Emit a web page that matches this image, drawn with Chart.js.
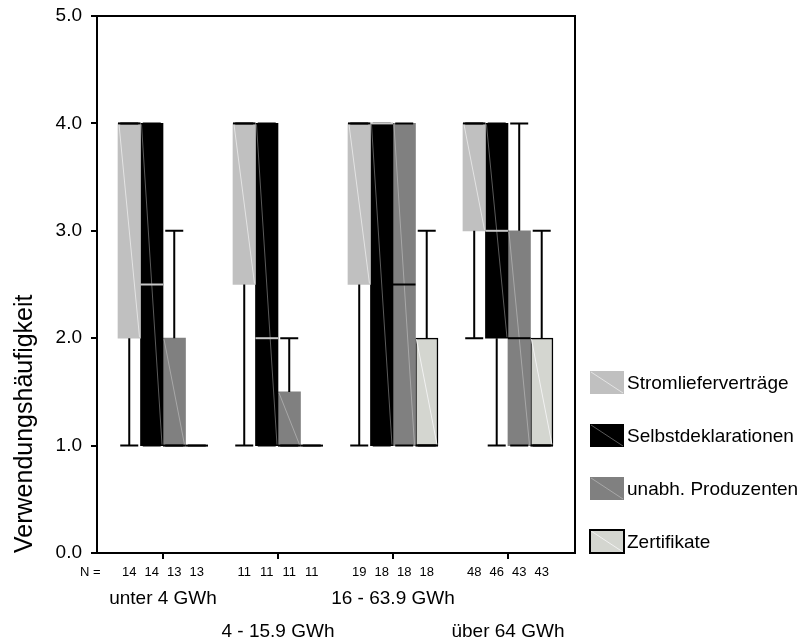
<!DOCTYPE html>
<html>
<head>
<meta charset="utf-8">
<title>Verwendungshäufigkeit</title>
<script src="https://cdn.jsdelivr.net/npm/chart.js@4/dist/chart.umd.min.js"></script>
<style>
    html, body { margin: 0; padding: 0; background: #fff; }
</style>
</head>
<body>
<canvas id="boxChart" width="805" height="641"></canvas>
<script>
(function() {
    'use strict';

    const groups = ['unter 4 GWh', '4 - 15.9 GWh', '16 - 63.9 GWh', 'über 64 GWh'];
    const seriesNames = ['Stromlieferverträge', 'Selbstdeklarationen', 'unabh. Produzenten', 'Zertifikate'];

    // one [min, q1, median, q3, max] per size group
    const stromliefervertraege = [[1, 2, 4, 4, 4], [1, 2.5, 4, 4, 4], [1, 2.5, 4, 4, 4], [2, 3, 4, 4, 4]];
    const selbstdeklarationen = [[1, 1, 2.5, 4, 4], [1, 1, 2, 4, 4], [1, 1, 4, 4, 4], [1, 2, 3, 4, 4]];
    const unabhProduzenten = [[1, 1, 1, 2, 3], [1, 1, 1, 1.5, 2], [1, 1, 2.5, 4, 4], [1, 1, 2, 3, 4]];
    const zertifikate = [[1, 1, 1, 1, 1], [1, 1, 1, 1, 1], [1, 1, 1, 2, 3], [1, 1, 1, 2, 3]];

    // cases per box
    const nStrom = [14, 11, 19, 48];
    const nSelbst = [14, 11, 18, 46];
    const nUnabh = [13, 11, 18, 43];
    const nZert = [13, 11, 18, 43];

    const FONT = "'Liberation Sans', Arial, sans-serif";
    Chart.defaults.font.family = FONT;
    Chart.defaults.color = '#000';

    function makeSet(label, summary, counts, fill, diag, median, border) {
        return {
            label: label,
            data: summary.map((s, i) => ({ x: i, y: [s[1], s[3]] })),
            summary: summary,
            counts: counts,
            backgroundColor: fill,
            borderColor: '#000',
            borderWidth: border ? 1.5 : 0,
            borderSkipped: false,
            diagColor: diag,
            medianColor: median
        };
    }

    // whiskers, caps, medians and the faint diagonal inside each box
    const boxWhiskers = {
        id: 'boxWhiskers',
        afterDatasetsDraw(chart) {
            const ctx = chart.ctx;
            const y = chart.scales.y;
            ctx.save();
            chart.data.datasets.forEach((ds, di) => {
                chart.getDatasetMeta(di).data.forEach((bar, i) => {
                    const p = bar.getProps(['x', 'y', 'base', 'width'], true);
                    const [lo, q1, med, q3, hi] = ds.summary[i];
                    const half = p.width / 2;
                    const cap = p.width * 0.4;
                    const top = Math.min(p.y, p.base);
                    const bottom = Math.max(p.y, p.base);

                    if (bottom - top > 2) {
                        ctx.strokeStyle = ds.diagColor;
                        ctx.lineWidth = 1;
                        ctx.beginPath();
                        ctx.moveTo(p.x - half + 1, top + 1);
                        ctx.lineTo(p.x + half - 1, bottom - 1);
                        ctx.stroke();
                    }

                    ctx.strokeStyle = '#000';
                    ctx.lineWidth = 2;
                    ctx.beginPath();
                    ctx.moveTo(p.x, y.getPixelForValue(q3));
                    ctx.lineTo(p.x, y.getPixelForValue(hi));
                    ctx.moveTo(p.x, y.getPixelForValue(q1));
                    ctx.lineTo(p.x, y.getPixelForValue(lo));
                    ctx.moveTo(p.x - cap, y.getPixelForValue(hi));
                    ctx.lineTo(p.x + cap, y.getPixelForValue(hi));
                    ctx.moveTo(p.x - cap, y.getPixelForValue(lo));
                    ctx.lineTo(p.x + cap, y.getPixelForValue(lo));
                    ctx.stroke();

                    ctx.strokeStyle = ds.medianColor;
                    ctx.beginPath();
                    ctx.moveTo(p.x - half, y.getPixelForValue(med));
                    ctx.lineTo(p.x + half, y.getPixelForValue(med));
                    ctx.stroke();
                });
            });
            ctx.restore();
        }
    };

    // frame, N row and legend
    const decorations = {
        id: 'decorations',
        afterDraw(chart) {
            const ctx = chart.ctx;
            const area = chart.chartArea;
            ctx.save();
            ctx.strokeStyle = '#000';
            ctx.lineWidth = 2;
            ctx.strokeRect(area.left, area.top, area.right - area.left, area.bottom - area.top);

            ctx.fillStyle = '#000';
            ctx.font = '13px ' + FONT;
            ctx.textBaseline = 'middle';
            ctx.textAlign = 'left';
            const nY = area.bottom + 19;
            ctx.fillText('N =', 80, nY);
            ctx.textAlign = 'center';
            chart.data.datasets.forEach((ds, di) => {
                chart.getDatasetMeta(di).data.forEach((bar, i) => {
                    ctx.fillText(String(ds.counts[i]), bar.x, nY);
                });
            });

            const sx = area.right + 15;
            const sw = 34, sh = 23, step = 53;
            ctx.font = '19px ' + FONT;
            ctx.textAlign = 'left';
            const n = chart.data.datasets.length;
            chart.data.datasets.forEach((ds, di) => {
                const cy = area.bottom - sh / 2 - (n - 1 - di) * step;
                const top = cy - sh / 2;
                ctx.fillStyle = ds.backgroundColor;
                ctx.fillRect(sx, top, sw, sh);
                ctx.strokeStyle = ds.diagColor;
                ctx.lineWidth = 1;
                ctx.beginPath();
                ctx.moveTo(sx + 1, top + 1);
                ctx.lineTo(sx + sw - 1, top + sh - 1);
                ctx.stroke();
                if (ds.borderWidth) {
                    ctx.strokeStyle = '#000';
                    ctx.lineWidth = 2;
                    ctx.strokeRect(sx, top, sw, sh);
                }
                ctx.fillStyle = '#000';
                ctx.fillText(ds.label, sx + 37, cy + 1);
            });
            ctx.restore();
        }
    };

    new Chart(document.getElementById('boxChart'), {
        type: 'bar',
        data: {
            datasets: [
                makeSet(seriesNames[0], stromliefervertraege, nStrom, '#c0c0c0', '#e4e4e4', '#000', false),
                makeSet(seriesNames[1], selbstdeklarationen, nSelbst, '#000000', '#5a5a5a', '#c8c8c8', false),
                makeSet(seriesNames[2], unabhProduzenten, nUnabh, '#808080', '#a8a8a8', '#000', false),
                makeSet(seriesNames[3], zertifikate, nZert, '#d4d6d0', '#f2f2f2', '#000', true)
            ]
        },
        options: {
            responsive: false,
            animation: false,
            layout: { padding: { top: 16, right: 230, bottom: 0, left: 0 } },
            datasets: { bar: { barThickness: 22.5, grouped: true } },
            plugins: {
                legend: { display: false },
                tooltip: { enabled: false }
            },
            scales: {
                x: {
                    type: 'linear',
                    offset: false,
                    min: -0.574,
                    max: 3.583,
                    afterBuildTicks: (scale) => { scale.ticks = groups.map((g, i) => ({ value: i })); },
                    afterFit: (scale) => { scale.height = 88; scale.paddingLeft = 0; scale.paddingRight = 0; },
                    grid: { offset: false, drawOnChartArea: false, drawTicks: true, tickLength: 6, color: '#000', lineWidth: 2 },
                    border: { display: false },
                    ticks: {
                        autoSkip: false,
                        maxRotation: 0,
                        padding: 23,
                        font: { size: 19, lineHeight: 1.74 },
                        callback: (v, i) => (i % 2 ? ['', groups[i]] : groups[i])
                    }
                },
                y: {
                    min: 0,
                    max: 5,
                    afterFit: (scale) => { scale.width = 97; scale.paddingTop = 0; scale.paddingBottom = 0; },
                    grid: { drawOnChartArea: false, drawTicks: true, tickLength: 6, color: '#000', lineWidth: 2 },
                    border: { display: false },
                    ticks: {
                        stepSize: 1,
                        padding: 9,
                        font: { size: 19 },
                        callback: (v) => v.toFixed(1)
                    },
                    title: {
                        display: true,
                        text: 'Verwendungshäufigkeit',
                        align: 'start',
                        font: { size: 25 },
                        padding: { top: 10, bottom: 0 }
                    }
                }
            }
        },
        plugins: [boxWhiskers, decorations]
    });
})();
</script>
</body>
</html>
